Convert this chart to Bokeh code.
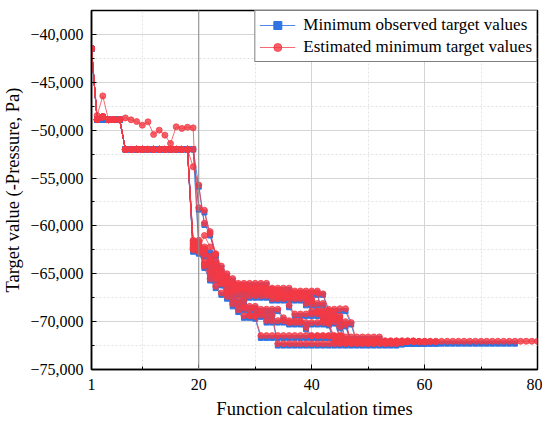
from bokeh.plotting import figure
from bokeh.models import FixedTicker, Span, Range1d
from bokeh.embed import file_html
from bokeh.resources import INLINE

# ---------------- data ----------------
x_tick_values = [1, 20, 40, 60, 80]
x_minor_ticks = [10, 30, 50, 70]
y_tick_values = [-75000, -70000, -65000, -60000, -55000, -50000, -45000, -40000]
y_tick_labels = ["\u221275,000", "\u221270,000", "\u221265,000", "\u221260,000",
                 "\u221255,000", "\u221250,000", "\u221245,000", "\u221240,000"]
y_minor_ticks = [-72500, -67500, -62500, -57500, -52500, -47500, -42500, -37500]

# shared initial phase (function calculations 1..18)
prefix_blue = [-41500, -48900, -48900, -48900, -48900, -48900, -52000, -52000, -52000,
               -52000, -52000, -52000, -52000, -52000, -52000, -52000, -52000, -52000]
prefix_red_step = [-41500, -48900, -48600, -48900, -48900, -48900, -52000, -52000, -52000,
                   -52000, -52000, -52000, -52000, -52000, -52000, -52000, -52000, -52000]
prefix_red_wander = [-41560, -48470, -46420, -48890, -48890, -48890, -48720, -48920, -49100,
                     -49480, -49130, -50450, -50000, -50520, -51390, -49650, -49820, -49690]

# continuation of each run from function calculation 19 onward
run1_red = [-49760, -62100, -62400, -63900, -64800, -65600, -66000, -66300, -66500,
            -66700, -66700, -66700, -66700, -66700, -66700, -66700,
            -67000, -67000, -67000, -67000, -67000, -67000, -67000, -67100,
            -68700, -68700, -68650, -68650, -70100,
            -72050, -72050, -72050, -72050, -72050, -72050, -72050, -72050, -72050, -72050, -72050,
            -72050, -72050, -72050, -72050, -72050, -72050, -72050, -72050, -72050, -72050, -72050,
            -72050, -72050, -72050, -72050, -72050, -72050, -72050, -72050, -72050, -72050, -72050]
run1_blue = [-52000, -62300, -62600, -64100, -65000, -65800, -66200, -66500, -66700,
             -66900, -66900, -66900, -66900, -66900, -66900, -66900,
             -67200, -67200, -67200, -67200, -67200, -67200, -67200, -67200,
             -68900, -68900, -68900, -68900, -70300,
             -72300, -72300, -72300, -72300, -72300, -72300, -72300, -72300, -72300, -72300,
             -72300, -72300, -72300, -72300, -72300, -72300, -72300, -72300, -72300, -72300,
             -72300, -72300, -72300, -72300, -72300, -72300, -72300, -72300, -72300]

run2_red = [-53820, -55730, -59720, -60590, -63000, -64600, -65300, -65900, -66200,
            -66500, -66500, -66500, -66500, -66500, -66500, -66500, -66500, -66500,
            -66800, -66800, -66800, -66800, -66800, -69900, -70200,
            -72100, -72100, -72100, -72100, -72100, -72100, -72100, -72100, -72100, -72100, -72100, -72100]
run2_blue = [-52000, -55900, -59900, -60800, -63200, -64800, -65500, -66100, -66400,
             -66700, -66700, -66700, -66700, -66700, -66700, -66700, -66700, -66700,
             -67000, -67000, -67000, -67000, -67000, -70100, -70400,
             -72300, -72300, -72300, -72300, -72300, -72300, -72300, -72300, -72300, -72300, -72300, -72300]

run3_red = [-52000, -58090, -58370, -60800, -62900, -64200, -65000, -65500,
            -66000, -66000, -66000, -66000, -66000, -66000,
            -67600, -67600, -67600, -67600, -67600, -67600, -67600, -67600,
            -68900, -69600, -69600, -69600, -69600, -70300,
            -72100, -72100, -72100, -72100, -72100, -72100, -72100, -72100, -72100, -72100, -72100, -72100, -72100, -72100]
run3_blue = [-52000, -58300, -58600, -61000, -63100, -64400, -65200, -65700,
             -66200, -66200, -66200, -66200, -66200, -66200,
             -67800, -67800, -67800, -67800, -67800, -67800, -67800, -67800,
             -69100, -69800, -69800, -69800, -69800, -70500,
             -72300, -72300, -72300, -72300, -72300, -72300, -72300, -72300, -72300, -72300, -72300, -72300, -72300, -72300]

run4_red = [-62000, -62300, -64000, -64700, -65400, -65900, -67360, -68150, -68750, -69380, -69400, -69500,
            -71460, -71460, -71460, -71460, -71460, -71460, -71460, -71460, -71460, -71460,
            -71460, -71460, -71460, -71460, -71460,
            -72100, -72100, -72100, -72100, -72100, -72100, -72100, -72100]
run4_blue = [-62200, -62500, -64200, -64900, -65600, -66100, -67600, -68400, -69000, -69600, -69600, -69700,
             -71700, -71700, -71700, -71700, -71700, -71700, -71700, -71700, -71700, -71700,
             -71700, -71700, -71700, -71700, -71700,
             -72300, -72300, -72300, -72300, -72300, -72300, -72300, -72300]

run5_red = [-61800, -62000, -63000, -64200, -65200, -66000, -66800, -67600, -68200, -68600,
            -69300, -69300, -69300, -69300, -69300,
            -72300, -72300, -72300, -72300, -72300, -72300, -72300, -72300, -72300, -72300, -72300,
            -72300, -72300, -72300, -72300, -72300, -72300, -72300, -72300, -72300, -72300, -72300]
run5_blue = [-62000, -62200, -63200, -64400, -65400, -66200, -67000, -67800, -68400, -68800,
             -69500, -69500, -69500, -69500, -69500,
             -72500, -72500, -72500, -72500, -72500, -72500, -72500, -72500, -72500, -72500, -72500,
             -72500, -72500, -72500, -72500, -72500, -72500, -72500, -72500, -72500, -72500, -72500]

run6_red = [-62400, -61500, -62900, -63600, -64400, -65100, -65700, -66100,
            -66400, -66400, -66400, -66400, -66400,
            -67100, -67100, -67100, -67100, -67100, -67100, -67100, -67300,
            -68900, -68900, -68900, -68900, -69700,
            -71600, -71600, -71600, -71600, -71600, -71600, -71600, -71600,
            -72100, -72100, -72100, -72100, -72100, -72100, -72100, -72100]
run6_blue = [-62600, -62600, -63100, -63800, -64600, -65300, -65900, -66300,
             -66600, -66600, -66600, -66600, -66600,
             -67300, -67300, -67300, -67300, -67300, -67300, -67300, -67500,
             -69100, -69100, -69100, -69100, -69900,
             -71800, -71800, -71800, -71800, -71800, -71800, -71800, -71800,
             -72300, -72300, -72300, -72300, -72300, -72300, -72300, -72300]

run7_red = [-62200, -62600, -61000, -62200, -63700, -64900, -65600,
            -66200, -66200, -66200,
            -66900, -66900, -66900, -66900, -66900, -66900, -66900, -68300,
            -69200, -69200, -69200, -69200, -69200, -69200,
            -70000, -70000, -70000, -70000,
            -72100, -72100, -72100, -72100, -72100, -72100, -72100, -72100, -72100, -72100]
run7_blue = [-62400, -62800, -62800, -62800, -63900, -65100, -65800,
             -66400, -66400, -66400,
             -67100, -67100, -67100, -67100, -67100, -67100, -67100, -68500,
             -69400, -69400, -69400, -69400, -69400, -69400,
             -70200, -70200, -70200, -70200,
             -72300, -72300, -72300, -72300, -72300, -72300, -72300, -72300, -72300, -72300]

run8_red = [-61600, -62100, -64200, -65500, -66300,
            -67000, -67000, -67000, -67000, -67800,
            -68700, -68700, -68700, -68700, -68700, -68700, -69600,
            -70100, -70100, -70100, -70100, -70100, -70100, -70100, -70100, -71600,
            -72200, -72200, -72200, -72200, -72200, -72200, -72200, -72200, -72200, -72200]
run8_blue = [-61800, -62300, -64400, -65700, -66500,
             -67200, -67200, -67200, -67200, -68000,
             -68900, -68900, -68900, -68900, -68900, -68900, -69800,
             -70300, -70300, -70300, -70300, -70300, -70300, -70300, -70300, -71800,
             -72400, -72400, -72400, -72400, -72400, -72400, -72400, -72400, -72400, -72400]

run9_red = [-62300, -61800, -62200, -63200, -64000, -65000, -65800, -66300, -66600,
            -67300, -67300, -67300, -67300, -67300, -67300, -67300, -67300, -67300, -67300, -67300,
            -68100, -68100, -68100, -68100,
            -69400, -69400, -69400,
            -72000, -72000, -72000, -72000, -72000, -72000, -72000, -72000, -72000, -72000, -72000, -72000, -72000]
run9_blue = [-62500, -62500, -62500, -63400, -64200, -65200, -66000, -66500, -66800,
             -67500, -67500, -67500, -67500, -67500, -67500, -67500, -67500, -67500, -67500, -67500,
             -68300, -68300, -68300, -68300,
             -69600, -69600, -69600,
             -72200, -72200, -72200, -72200, -72200, -72200, -72200, -72200, -72200, -72200, -72200, -72200, -72200]

run10_red = [-62500, -62700, -63800, -65000, -65600, -66000, -66300,
             -66600, -66600, -66600, -66600, -66600, -66600, -66600, -66600,
             -67400, -67400, -67400, -67400, -67400, -67400, -67800,
             -69000, -69000, -69000, -69000, -70500,
             -72100, -72100, -72100, -72100, -72100, -72100, -72100, -72100, -72100,
             -72100, -72100, -72100, -72100, -72100, -72100, -72100, -72100]
run10_blue = [-62700, -62900, -64000, -65200, -65800, -66200, -66500,
              -66800, -66800, -66800, -66800, -66800, -66800, -66800, -66800,
              -67600, -67600, -67600, -67600, -67600, -67600, -68000,
              -69200, -69200, -69200, -69200, -70700,
              -72300, -72300, -72300, -72300, -72300, -72300, -72300, -72300, -72300,
              -72300, -72300, -72300, -72300, -72300, -72300, -72300, -72300]

run11_red = [-61500, -61700, -62500, -63500, -64600, -65300, -65900, -66800, -67700,
             -68400, -68400, -68400, -69000,
             -69900, -69900, -69900, -69900, -69900, -69900, -69900, -70600,
             -71500, -71500, -71500, -71500, -71500, -71500,
             -72200, -72200, -72200, -72200, -72200, -72200, -72200, -72200, -72200, -72200, -72200]
run11_blue = [-61700, -61900, -62700, -63700, -64800, -65500, -66100, -67000, -67900,
              -68600, -68600, -68600, -69200,
              -70100, -70100, -70100, -70100, -70100, -70100, -70100, -70800,
              -71700, -71700, -71700, -71700, -71700, -71700,
              -72400, -72400, -72400, -72400, -72400, -72400, -72400, -72400, -72400, -72400, -72400]

red_runs = [prefix_red_wander + run1_red, prefix_red_step + run2_red, prefix_red_step + run3_red,
            prefix_red_step + run4_red, prefix_red_step + run5_red, prefix_red_step + run6_red,
            prefix_red_step + run7_red, prefix_red_step + run8_red, prefix_red_step + run9_red,
            prefix_red_step + run10_red, prefix_red_step + run11_red]
blue_runs = [prefix_blue + run1_blue, prefix_blue + run2_blue, prefix_blue + run3_blue,
             prefix_blue + run4_blue, prefix_blue + run5_blue, prefix_blue + run6_blue,
             prefix_blue + run7_blue, prefix_blue + run8_blue, prefix_blue + run9_blue,
             prefix_blue + run10_blue, prefix_blue + run11_blue]

BLUE = "#2f74e0"
RED = "#f23a45"
FONT = "Liberation Serif"
AX_FONT = "'Liberation Serif', 'Times New Roman', serif"

p = figure(width=542, height=421, output_backend="svg", toolbar_location=None,
           x_range=Range1d(1, 80), y_range=Range1d(-75000, -37500),
           min_border_left=90, min_border_right=5, min_border_top=10, min_border_bottom=51)

for i, vals in enumerate(blue_runs):
    xs = list(range(1, len(vals) + 1))
    kw = {"legend_label": "Minimum observed target values"} if i == 0 else {}
    p.line(xs, vals, line_color=BLUE, line_width=1, line_alpha=0.85, **kw)
    p.scatter(xs, vals, marker="square", size=5, fill_color=BLUE, line_color=BLUE, **kw)

for i, vals in enumerate(red_runs):
    xs = list(range(1, len(vals) + 1))
    kw = {"legend_label": "Estimated minimum target values"} if i == 0 else {}
    p.line(xs, vals, line_color=RED, line_width=1, line_alpha=0.75, **kw)
    p.scatter(xs, vals, marker="circle", size=6, fill_color=RED, line_color=RED,
              fill_alpha=0.8, line_alpha=0.8, **kw)

p.add_layout(Span(location=20, dimension="height", line_color="#8c8c8c", line_width=1))

p.xaxis.ticker = FixedTicker(ticks=x_tick_values, minor_ticks=x_minor_ticks)
p.yaxis.ticker = FixedTicker(ticks=y_tick_values, minor_ticks=y_minor_ticks)
p.yaxis.major_label_overrides = dict(zip(y_tick_values, y_tick_labels))

for ax in (p.xaxis[0], p.yaxis[0]):
    ax.axis_line_color = "black"
    ax.axis_line_width = 1.5
    ax.major_tick_in = 5
    ax.major_tick_out = 0
    ax.minor_tick_in = 3
    ax.minor_tick_out = 0
    ax.major_tick_line_color = "black"
    ax.minor_tick_line_color = "black"
    ax.major_label_text_font = AX_FONT
    ax.major_label_text_font_size = "16px"
    ax.major_label_text_color = "black"
    ax.axis_label_text_font = AX_FONT
    ax.axis_label_text_font_size = "18.5px"
    ax.axis_label_text_font_style = "normal"
    ax.axis_label_text_color = "black"

p.xaxis.major_label_standoff = 9
p.yaxis.major_label_standoff = 8
p.xaxis.axis_label = "Function calculation times"
p.yaxis.axis_label = "Target value (-Pressure, Pa)"
p.xaxis.axis_label_standoff = 6
p.yaxis.axis_label_standoff = 4

for g in (p.xgrid[0], p.ygrid[0]):
    g.grid_line_color = "#d4d4d4"
    g.grid_line_width = 1
    g.minor_grid_line_color = "#e2e2e2"
    g.minor_grid_line_dash = "2 2"

p.outline_line_color = "black"
p.outline_line_width = 1.5
p.background_fill_color = "white"
p.border_fill_color = "white"

leg = p.legend[0]
leg.location = "top_right"
leg.margin = 0
leg.padding = 4
leg.spacing = 2
leg.border_line_color = "black"
leg.border_line_width = 1
leg.background_fill_alpha = 1
leg.label_text_font = FONT
leg.label_text_font_size = "17px"
leg.label_text_color = "black"
leg.glyph_width = 36
leg.label_standoff = 8

open("out.html", "w").write(file_html(p, INLINE))
